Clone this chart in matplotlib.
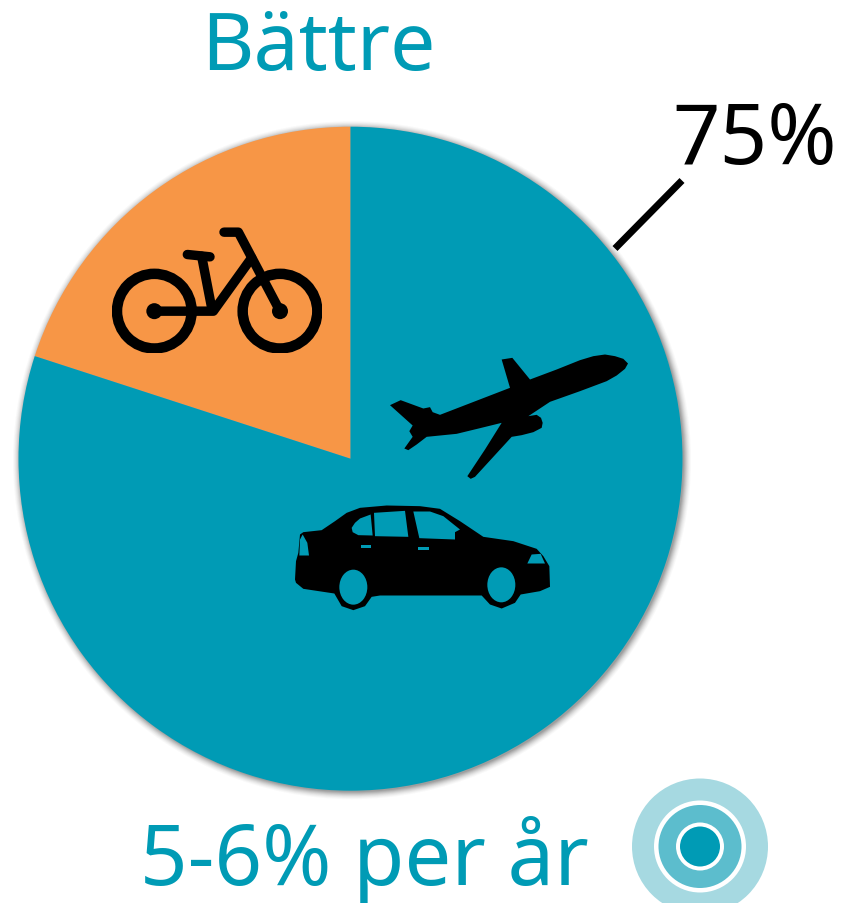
import matplotlib
matplotlib.use("Agg")
import matplotlib.pyplot as plt
from matplotlib.patches import Circle, Ellipse, Polygon, Rectangle

# Data
share_labels = ["Övrigt", "Cykel"]
share_values = [80, 20]
share_colors = ["#009BB5", "#F79646"]
title_text = "Bättre"
callout_text = "75%"
footer_text = "5-6% per år"

W, H = 844, 904
plt.rcParams["font.family"] = ["Noto Sans", "DejaVu Sans"]
fig = plt.figure(figsize=(W / 100, H / 100), dpi=100)
ax = fig.add_axes([0, 0, 1, 1])


def Y(py):
    return H - py


TEAL = "#009BB5"
CX, CY, R = 350.5, 459.7, 332

# soft shadow
for extra, a in [(7, .03), (6, .04), (5, .05), (4, .07), (3, .09), (2, .11), (1, .13), (0, .15)]:
    ax.add_patch(Circle((CX + 1.5, Y(CY + 1.5)), R + extra, fc="#444444", ec="none", alpha=a, zorder=1))

# pie: orange slice from 12 o'clock counter-clockwise, teal for the rest
ax.pie(share_values[::-1], colors=share_colors[::-1], startangle=90, counterclock=True,
       center=(CX, Y(CY)), radius=R, frame=True, wedgeprops=dict(linewidth=0, zorder=2))
ax.set_xlim(0, W)
ax.set_ylim(0, H)
ax.set_aspect("equal")
ax.axis("off")


def plane_pt(p):
    return (280 + p[0] / 3, Y(340.5 + p[1] / 3))


def bike_pt(p):
    return (90 + p[0] / 3, Y(210.5 + p[1] / 3))


def poly(points, tf, color="black", z=4):
    ax.add_patch(Polygon([tf(p) for p in points], closed=True, fc=color, ec="none", zorder=z))


# plane icon
poly([(330,197),(362,182),(430,207),(450,203),(458,218),(480,226),(690,145),(665,60),(697,55),
      (750,120),(830,90),(900,62),(940,50),(975,45),(1005,50),(1030,58),(1044,72),(1035,88),(1010,108),
      (980,125),(900,155),(810,187),(745,230),(770,226),(783,235),(788,250),(785,265),(760,278),
      (725,287),(695,292),(640,352),(585,412),(572,418),(562,410),(615,330),(665,250),(600,266),
      (530,283),(440,292),(410,315),(385,332),(373,327),(398,292),(388,275),(398,258)], plane_pt)

# car icon
poly([(45,720),(48,665),(55,640),(60,585),(70,578),(125,572),(165,545),(200,520),(240,505),(320,498),
      (420,500),(480,508),(540,545),(610,592),(700,605),(770,628),(790,650),(808,680),(810,742),
      (780,755),(722,765),(705,790),(665,807),(630,795),(605,768),(300,768),(275,772),(255,800),
      (220,812),(185,800),(163,762),(70,748),(48,730)], plane_pt)
for shape in [
    [(215,565),(225,550),(240,537),(272,525),(278,588),(235,587),(218,578)],
    [(282,520),(375,514),(385,592),(285,590)],
    [(400,516),(450,516),(490,530),(540,570),(525,578),(525,600),(418,596)],
    [(58,648),(60,600),(68,585),(82,610),(87,648)],
    [(742,672),(755,645),(782,643),(795,672)],
    [(242,615),(273,615),(273,625),(242,625)],
    [(415,621),(447,621),(447,631),(415,631)],
]:
    poly(shape, plane_pt, color=TEAL, z=5)
for c in [(220, 743), (664, 736)]:
    ax.add_patch(Ellipse(plane_pt(c), 84 / 3, 105 / 3, fc=TEAL, ec="none", zorder=5))

# bicycle icon
lw = 10.5 * 0.72
clip = Rectangle((90 + 67 / 3, Y(210.5 + 430 / 3)), 630 / 3, 430 / 3, transform=ax.transData)
for c in [(193, 305), (570, 305)]:
    x, y = bike_pt(c)
    ring = Circle((x, y), 112 / 3, fc="none", ec="black", lw=lw, zorder=4)
    ax.add_patch(ring)
    ring.set_clip_path(clip)
    ax.add_patch(Circle((x, y), 24 / 3, fc="black", ec="none", zorder=4))
for path in [
    [(193,305),(370,305),(485,145)],
    [(335,140),(365,295)],
    [(292,135),(360,142)],
    [(402,68),(445,68),(570,305)],
]:
    xs, ys = zip(*[bike_pt(p) for p in path])
    ax.plot(xs, ys, color="black", lw=lw * 0.9, solid_capstyle="round", solid_joinstyle="round", zorder=4)

# callout line
ax.plot([615, 682], [Y(249.5), Y(181.5)], color="black", lw=7 * 0.72, solid_capstyle="butt", zorder=4)

# texts
ax.text(318, Y(70), title_text, color=TEAL, fontsize=58, ha="center", va="baseline", zorder=6)
ax.text(755, Y(164), callout_text, color="black", fontsize=60, ha="center", va="baseline", zorder=6)
ax.text(364, Y(885), footer_text, color=TEAL, fontsize=60, ha="center", va="baseline", zorder=6)

# target rings
TX, TY = 700, 847.5
for r, col in [(68, "#A6D9E1"), (46, "white"), (41.5, "#5CBDCD"), (24, "white"), (20, TEAL)]:
    ax.add_patch(Circle((TX, Y(TY)), r, fc=col, ec="none", zorder=3))

fig.savefig("out.png", dpi=100)
